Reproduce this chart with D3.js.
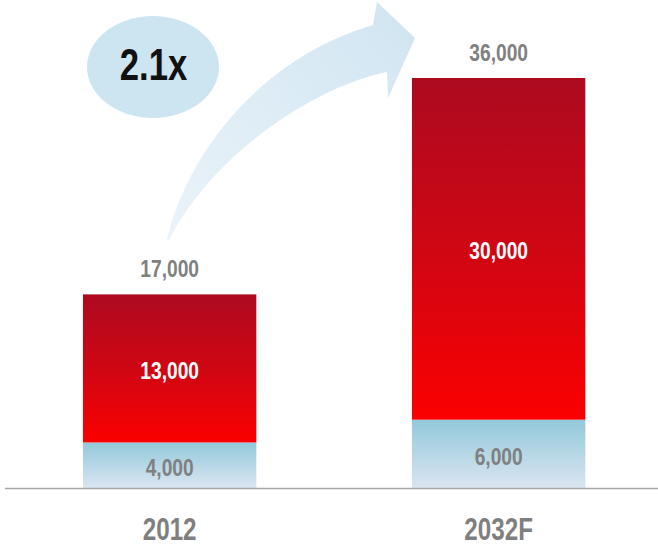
<!DOCTYPE html>
<html>
<head>
<meta charset="utf-8">
<script src="https://cdn.jsdelivr.net/npm/d3@7"></script>
<style>
  html, body { margin: 0; padding: 0; background: #fff; }
  svg { display: block; }
  text { font-family: "Liberation Sans", Arial, sans-serif; font-weight: bold; }
</style>
</head>
<body>
<script>
// Market size: base segment plus growth segment, per year
const categories = ["2012", "2032F"];
const baseValues = [4000, 6000];
const growthValues = [13000, 30000];
const totalValues = [17000, 36000];
const multipleLabel = "2.1x";

const W = 658, H = 546;
const NARROW = 0.8; // horizontal squeeze for a condensed look
const svg = d3.select("body").append("svg").attr("width", W).attr("height", H);

const x = d3.scaleBand().domain(categories).range([0, 658])
  .paddingInner(0.473).paddingOuter(0.2365).align(0.533);
const y = d3.scaleLinear().domain([0, 36000]).range([488, 78]);
const fmt = d3.format(",");

const defs = svg.append("defs");
const redGrad = defs.append("linearGradient").attr("id", "redGrad").attr("x1", 0).attr("y1", 0).attr("x2", 0).attr("y2", 1);
redGrad.append("stop").attr("offset", "0%").attr("stop-color", "#ad0a20");
redGrad.append("stop").attr("offset", "55%").attr("stop-color", "#d30612");
redGrad.append("stop").attr("offset", "100%").attr("stop-color", "#fb0000");
const blueGrad = defs.append("linearGradient").attr("id", "blueGrad").attr("x1", 0).attr("y1", 0).attr("x2", 0).attr("y2", 1);
blueGrad.append("stop").attr("offset", "0%").attr("stop-color", "#92c9da");
blueGrad.append("stop").attr("offset", "100%").attr("stop-color", "#dbe5f1");
const arrowGrad = defs.append("linearGradient").attr("id", "arrowGrad")
  .attr("gradientUnits", "userSpaceOnUse").attr("x1", 167).attr("y1", 240).attr("x2", 413).attr("y2", 38);
arrowGrad.append("stop").attr("offset", "0%").attr("stop-color", "#eaf3f9");
arrowGrad.append("stop").attr("offset", "100%").attr("stop-color", "#d2e6f2");

// Growth arrow from the first bar toward the second
svg.append("path")
  .attr("d", "M167,240 C185,160 255,60 373,25 L377,2 L415,38 L388,98 L387,72 C320,85 215,150 169,240 Z")
  .attr("fill", "url(#arrowGrad)");

// Condensed text helper
function label(parent, cx, baseline, str, size, fill, squeeze) {
  return parent.append("text")
    .attr("transform", `translate(${cx},${baseline}) scale(${squeeze},1)`)
    .attr("text-anchor", "middle").attr("font-size", size).attr("fill", fill).text(str);
}

// Multiple bubble
svg.append("ellipse").attr("cx", 153).attr("cy", 67).attr("rx", 66).attr("ry", 51).attr("fill", "#cde5f1");
label(svg, 153.5, 80, multipleLabel, 45, "#111", 0.77);

const bw = x.bandwidth();
const g = svg.append("g");
categories.forEach((c, i) => {
  const x0 = x(c), cx = x0 + bw / 2;
  const top = baseValues[i] + growthValues[i];
  // base segment
  g.append("rect").attr("x", x0).attr("width", bw)
    .attr("y", y(baseValues[i])).attr("height", y(0) - y(baseValues[i]))
    .attr("fill", "url(#blueGrad)");
  // growth segment
  g.append("rect").attr("x", x0).attr("width", bw)
    .attr("y", y(top)).attr("height", y(baseValues[i]) - y(top))
    .attr("fill", "url(#redGrad)");
  label(g, cx, (y(0) + y(baseValues[i])) / 2 + 11, fmt(baseValues[i]), 24, "#808080", NARROW);
  label(g, cx, (y(baseValues[i]) + y(top)) / 2 + 10.5, fmt(growthValues[i]), 24, "#ffffff", NARROW);
  label(g, cx, y(totalValues[i]) - 17, fmt(totalValues[i]), 24, "#808080", NARROW);
});

// Category axis
const axis = svg.append("g").attr("transform", "translate(0,488.5)")
  .call(d3.axisBottom(x).tickSize(0).tickPadding(29.5));
axis.select(".domain").attr("d", "M5,0H658").attr("stroke", "#a6a6a6").attr("stroke-width", 1.5);
axis.selectAll(".tick text")
  .attr("font-size", 31).attr("fill", "#7f7f7f")
  .attr("font-family", "'Liberation Sans', Arial, sans-serif").attr("font-weight", "bold")
  .attr("transform", "scale(0.78,1)");
</script>
</body>
</html>
